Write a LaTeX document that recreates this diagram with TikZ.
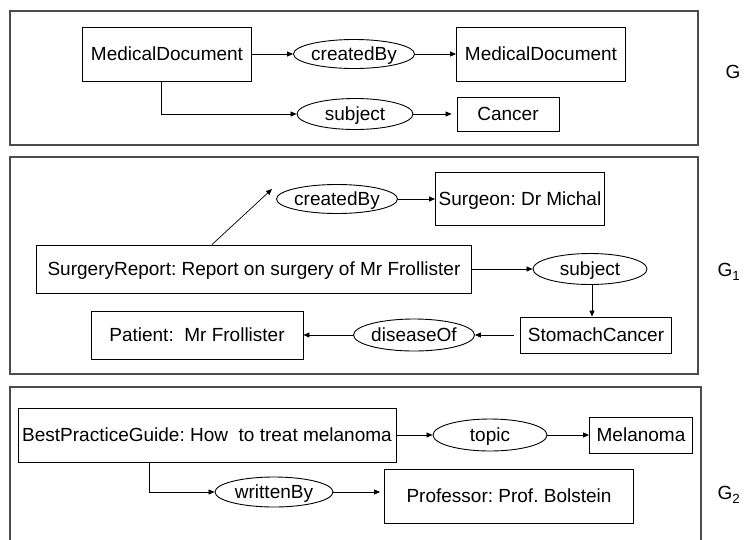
\documentclass[tikz,border=0pt]{standalone}
\usepackage{fontspec}
\setmainfont{Liberation Sans}
\usetikzlibrary{shapes.geometric,arrows.meta}
\frenchspacing
\begin{document}
\begin{tikzpicture}[x=1pt,y=-1pt,
  font=\fontsize{19}{23}\selectfont,
  every node/.style={text height=13.6pt,text depth=0pt},
  frame/.style={draw=black!70,line width=1.3pt},
  cls/.style={draw,line width=0.9pt,rectangle,inner sep=0pt},
  prop/.style={draw,line width=0.9pt,ellipse,inner sep=0pt},
  link/.style={draw,line width=0.7pt,-{Triangle[length=6pt,width=5pt]}},
  glabel/.style={inner sep=0pt}]
\useasboundingbox (0,0) rectangle (744,539);

% group frames
\draw[frame] (10,11) rectangle (698,145);
\draw[frame] (10,157) rectangle (698,374);
\draw[frame] (10,545) -- (10,387) -- (701,387) -- (701,545);

% ---- G ----
\node[cls,minimum width=169pt,minimum height=54pt] (md1) at (167,54) {MedicalDocument};
\node[prop,minimum width=117pt,minimum height=29pt] (cb1) at (354,54) {createdBy};
\node[cls,minimum width=169pt,minimum height=54pt] (md2) at (541,54) {MedicalDocument};
\node[prop,minimum width=116pt,minimum height=31pt] (sj1) at (355,114) {subject};
\node[cls,minimum width=102pt,minimum height=34pt] (ca) at (508,114) {Cancer};
\node[glabel] (g0) at (733,72) {G};

\draw[link] (md1) -- (cb1);
\draw[link] (cb1) -- (md2);
\draw[link] ([xshift=-6pt]md1.south) |- (sj1);
\draw[link,shorten >=5pt] (sj1) -- (ca);

% ---- G1 ----
\node[prop,minimum width=120pt,minimum height=29pt] (cb2) at (337,199) {createdBy};
\node[cls,minimum width=169pt,minimum height=53pt] (sg) at (520,199) {Surgeon: Dr Michal};
\node[cls,minimum width=435pt,minimum height=48pt] (sr) at (254,269) {SurgeryReport: Report on surgery of Mr Frollister};
\node[prop,minimum width=114pt,minimum height=31pt] (sj2) at (590,269) {subject};
\node[cls,minimum width=151pt,minimum height=36pt] (sc) at (596,335) {StomachCancer};
\node[prop,minimum width=114pt,minimum height=32pt] (do) at (414,335) {diseaseOf};
\node[cls,minimum width=212pt,minimum height=48pt] (pt) at (197,335) {Patient:~ Mr Frollister};
\node[glabel] (g1) at (729,270) {G\textsubscript{1}};

\coordinate (cbend) at (272,189);
\draw[link] ([xshift=-42pt]sr.north) -- (cbend);
\draw[link] (cb2) -- (sg);
\draw[link] (sr) -- (sj2);
\draw[link] ([xshift=2pt]sj2.south) -- ([xshift=2pt]sj2.south |- sc.north);
\draw[link,shorten <=6pt] (sc) -- (do);
\draw[link] (do) -- (pt);

% ---- G2 ----
\node[cls,minimum width=378pt,minimum height=54pt] (bp) at (207,435) {BestPracticeGuide: How~ to treat melanoma};
\node[prop,minimum width=114pt,minimum height=32pt] (tp) at (490,435) {topic};
\node[cls,minimum width=103pt,minimum height=36pt] (me) at (641,435) {Melanoma};
\node[prop,minimum width=118pt,minimum height=30pt] (wb) at (274,492) {writtenBy};
\node[cls,minimum width=249pt,minimum height=54pt] (pr) at (509,496) {Professor: Prof. Bolstein};
\node[glabel] (g2) at (729,493) {G\textsubscript{2}};

\draw[link] (bp) -- (tp);
\draw[link] (tp) -- (me);
\draw[link] ([xshift=-58pt]bp.south) |- (wb);
\draw[link,shorten >=4pt] (wb.east) -- (wb.east -| pr.west);
\end{tikzpicture}
\end{document}
